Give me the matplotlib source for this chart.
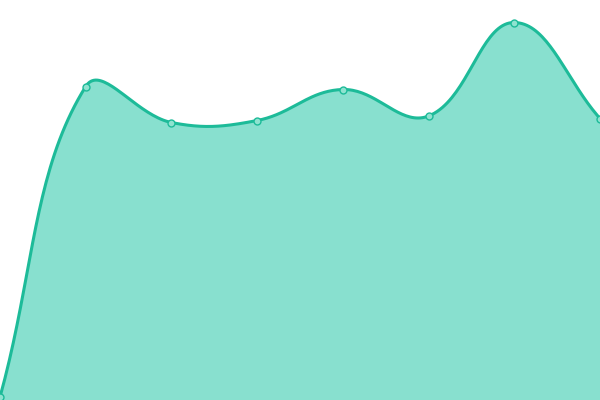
import numpy as np
import matplotlib
matplotlib.use("Agg")
import matplotlib.pyplot as plt

x_idx = [0, 1, 2, 3, 4, 5, 6, 7]
values = [3, 313.5, 277.5, 279.5, 310.5, 284, 377.5, 281.5]

line_color = "#1dbb99"
fill_color = "#88e0cf"
TENSION = 0.4


def spline_path(ax, xs, ys, n=40):
    """Chart.js-style bezier smoothing computed in pixel space."""
    pts = ax.transData.transform(np.column_stack([xs, ys]))
    bbox = ax.bbox
    N = len(pts)
    cps_prev = np.zeros_like(pts)
    cps_next = np.zeros_like(pts)
    for i in range(N):
        prev = pts[i - 1] if i > 0 else pts[i]
        cur = pts[i]
        nxt = pts[i + 1] if i < N - 1 else pts[i]
        d01 = np.hypot(*(cur - prev))
        d12 = np.hypot(*(nxt - cur))
        tot = d01 + d12
        s01 = d01 / tot if tot else 0
        s12 = d12 / tot if tot else 0
        fa = TENSION * s01
        fb = TENSION * s12
        cps_prev[i] = cur - fa * (nxt - prev)
        cps_next[i] = cur + fb * (nxt - prev)
    for c in (cps_prev, cps_next):
        c[:, 0] = np.clip(c[:, 0], bbox.x0, bbox.x1)
        c[:, 1] = np.clip(c[:, 1], bbox.y0, bbox.y1)
    out = []
    for i in range(N - 1):
        p0, p1, p2, p3 = pts[i], cps_next[i], cps_prev[i + 1], pts[i + 1]
        t = np.linspace(0, 1, n, endpoint=(i == N - 2))[:, None]
        seg = ((1 - t) ** 3) * p0 + 3 * ((1 - t) ** 2) * t * p1 + 3 * (1 - t) * t ** 2 * p2 + t ** 3 * p3
        out.append(seg)
    out = np.vstack(out)
    data = ax.transData.inverted().transform(out)
    return data[:, 0], data[:, 1]


fig = plt.figure(figsize=(6, 4), dpi=100)
ax = fig.add_axes([0, 0, 1, 1])
ax.set_xlim(0, 7)
ax.set_ylim(0, 400)
ax.axis("off")
sx, sy = spline_path(ax, x_idx, values)
ax.fill_between(sx, 0, sy, color=fill_color, linewidth=0)
ax.plot(sx, sy, color=line_color, linewidth=2.2, solid_capstyle="round")
ax.plot(x_idx, values, "o", markersize=5, markerfacecolor="#8fe3d0",
        markeredgecolor=line_color, markeredgewidth=1, clip_on=False)
fig.savefig("out.png", dpi=100)
